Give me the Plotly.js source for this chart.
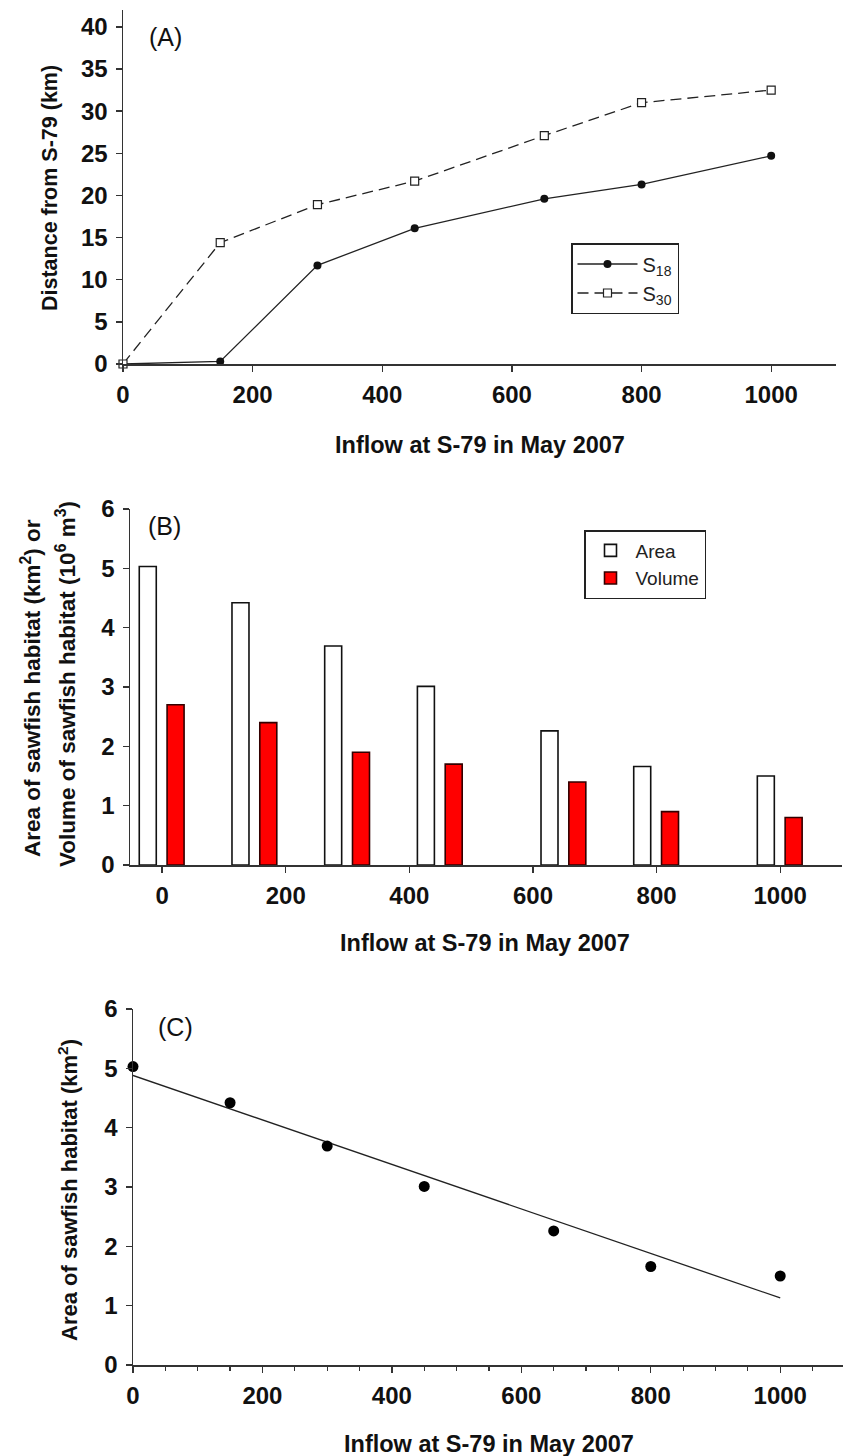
<!DOCTYPE html>
<html>
<head>
<meta charset="utf-8">
<script src="https://cdn.plot.ly/plotly-3.0.1.min.js"></script>
<style>html,body{margin:0;padding:0;background:#fff;}#chart{width:844px;height:1456px;}</style>
</head>
<body>
<div id="chart"></div>
<script>
// ---- Data ----
const inflowA = [0, 150, 300, 450, 650, 800, 1000];
const s18 = [0, 0.3, 11.7, 16.1, 19.6, 21.3, 24.7];
const s30 = [0, 14.4, 18.9, 21.7, 27.1, 31.0, 32.5];

const inflowB = [0, 150, 300, 450, 650, 800, 1000];
const areaB = [5.03, 4.42, 3.69, 3.01, 2.26, 1.66, 1.5];
const volumeB = [2.7, 2.4, 1.9, 1.7, 1.4, 0.9, 0.8];

const inflowC = [0, 150, 300, 450, 650, 800, 1000];
const areaC = [5.03, 4.42, 3.69, 3.01, 2.26, 1.66, 1.5];
const fitX = [0, 1000];
const fitY = [4.88, 1.13];

// ---- Styling helpers ----
const FONT = 'Liberation Sans, Arial, sans-serif';
const AX = '#333';
const W = 844, H = 1456;
const px = v => v / W;
const py = v => 1 - v / H;

function axisBase(extra) {
  return Object.assign({
    showline: true, linecolor: AX, linewidth: 1.5,
    ticks: 'outside', ticklen: 6, tickwidth: 1.3, tickcolor: AX,
    showgrid: false, zeroline: false,
    tickfont: {family: FONT, size: 24, color: '#111', weight: 'bold'},
    ticklabelstandoff: 3,
    fixedrange: true
  }, extra);
}

const traces = [
  {x: inflowA, y: s18, name: 'S<sub>18</sub>', type: 'scatter', mode: 'lines+markers',
   xaxis: 'x', yaxis: 'y', cliponaxis: false, legend: 'legend',
   line: {color: '#222', width: 1.3},
   marker: {symbol: 'circle', size: 8, color: '#111'}},
  {x: inflowA, y: s30, name: 'S<sub>30</sub>', type: 'scatter', mode: 'lines+markers',
   xaxis: 'x', yaxis: 'y', cliponaxis: false, legend: 'legend',
   line: {color: '#222', width: 1.3, dash: '11px,6px'},
   marker: {symbol: 'square', size: 8, color: '#fff', line: {color: '#222', width: 1.2}}},
  {x: inflowB, y: areaB, name: 'Area', type: 'bar', xaxis: 'x2', yaxis: 'y2',
   legend: 'legend2', width: 27.5, offset: -37,
   marker: {color: '#fff', line: {color: '#111', width: 1.6}}},
  {x: inflowB, y: volumeB, name: 'Volume', type: 'bar', xaxis: 'x2', yaxis: 'y2',
   legend: 'legend2', width: 27.5, offset: 8,
   marker: {color: '#ff0000', line: {color: '#300', width: 1.6}}},
  {x: fitX, y: fitY, type: 'scatter', mode: 'lines', xaxis: 'x3', yaxis: 'y3',
   showlegend: false, line: {color: '#222', width: 1.3}},
  {x: inflowC, y: areaC, type: 'scatter', mode: 'markers', xaxis: 'x3', yaxis: 'y3',
   showlegend: false, cliponaxis: false,
   marker: {symbol: 'circle', size: 11, color: '#000'}}
];

const titleFont = {family: FONT, size: 23.5, color: '#111', weight: 'bold'};
const yTitleFontA = {family: FONT, size: 21.5, color: '#111', weight: 'bold'};
const yTitleFontB = {family: FONT, size: 22.5, color: '#111', weight: 'bold'};
const yTitleFontC = {family: FONT, size: 22, color: '#111', weight: 'bold'};
const panelFont = {family: FONT, size: 25, color: '#111'};

const layout = {
  width: W, height: H,
  margin: {l: 0, r: 0, t: 0, b: 0},
  paper_bgcolor: '#fff', plot_bgcolor: 'rgba(0,0,0,0)',
  showlegend: true,
  barmode: 'overlay',
  xaxis: axisBase({domain: [px(123), px(836)], range: [0, 1100], dtick: 200, tick0: 0, anchor: 'y'}),
  yaxis: axisBase({domain: [py(364), py(10)], range: [0, 42], dtick: 5, tick0: 0, anchor: 'x'}),
  xaxis2: axisBase({domain: [px(130), px(842)], range: [-52, 1100], dtick: 200, tick0: 0, anchor: 'y2'}),
  yaxis2: axisBase({domain: [py(865), py(509)], range: [0, 6], dtick: 1, tick0: 0, anchor: 'x2'}),
  xaxis3: axisBase({domain: [px(133), px(843)], range: [0, 1097], dtick: 200, tick0: 0, anchor: 'y3',
    minor: {dtick: 50, ticks: 'outside', ticklen: 4, tickcolor: AX, tickwidth: 1.2, showgrid: false}}),
  yaxis3: axisBase({domain: [py(1365), py(1009)], range: [0, 6], dtick: 1, tick0: 0, anchor: 'x3'}),
  legend: {
    x: px(571), y: py(243), xanchor: 'left', yanchor: 'top',
    bgcolor: '#fff', bordercolor: '#222', borderwidth: 1.5,
    font: {family: FONT, size: 20, color: '#222'},
    traceorder: 'normal', itemwidth: 60, entrywidth: 110, entrywidthmode: 'pixels'
  },
  legend2: {
    x: px(584), y: py(530), xanchor: 'left', yanchor: 'top',
    bgcolor: '#fff', bordercolor: '#222', borderwidth: 1.5,
    font: {family: FONT, size: 19, color: '#222'},
    traceorder: 'normal', itemwidth: 40, entrywidth: 110, entrywidthmode: 'pixels'
  },
  annotations: [
    {text: 'Inflow at S-79 in May 2007', xref: 'paper', yref: 'paper', x: px(480), y: py(445),
     xanchor: 'center', yanchor: 'middle', showarrow: false, font: titleFont},
    {text: 'Inflow at S-79 in May 2007', xref: 'paper', yref: 'paper', x: px(485), y: py(943),
     xanchor: 'center', yanchor: 'middle', showarrow: false, font: titleFont},
    {text: 'Inflow at S-79 in May 2007', xref: 'paper', yref: 'paper', x: px(489), y: py(1444),
     xanchor: 'center', yanchor: 'middle', showarrow: false, font: titleFont},
    {text: 'Distance from S-79 (km)', xref: 'paper', yref: 'paper', x: px(50), y: py(188),
     xanchor: 'center', yanchor: 'middle', textangle: -90, showarrow: false, font: yTitleFontA},
    {text: 'Area of sawfish habitat (km<sup>2</sup>) or', xref: 'paper', yref: 'paper', x: px(31), y: py(688),
     xanchor: 'center', yanchor: 'middle', textangle: -90, showarrow: false, font: yTitleFontB},
    {text: 'Volume of sawfish habitat (10<sup>6</sup> m<sup>3</sup>)', xref: 'paper', yref: 'paper', x: px(66), y: py(684),
     xanchor: 'center', yanchor: 'middle', textangle: -90, showarrow: false, font: yTitleFontB},
    {text: 'Area of sawfish habitat (km<sup>2</sup>)', xref: 'paper', yref: 'paper', x: px(68), y: py(1190),
     xanchor: 'center', yanchor: 'middle', textangle: -90, showarrow: false, font: yTitleFontC},
    {text: '(A)', xref: 'paper', yref: 'paper', x: px(147), y: py(37),
     xanchor: 'left', yanchor: 'middle', showarrow: false, font: panelFont},
    {text: '(B)', xref: 'paper', yref: 'paper', x: px(146), y: py(526),
     xanchor: 'left', yanchor: 'middle', showarrow: false, font: panelFont},
    {text: '(C)', xref: 'paper', yref: 'paper', x: px(156), y: py(1027),
     xanchor: 'left', yanchor: 'middle', showarrow: false, font: panelFont}
  ]
};

Plotly.newPlot('chart', traces, layout, {displayModeBar: false, staticPlot: true});
</script>
</body>
</html>
